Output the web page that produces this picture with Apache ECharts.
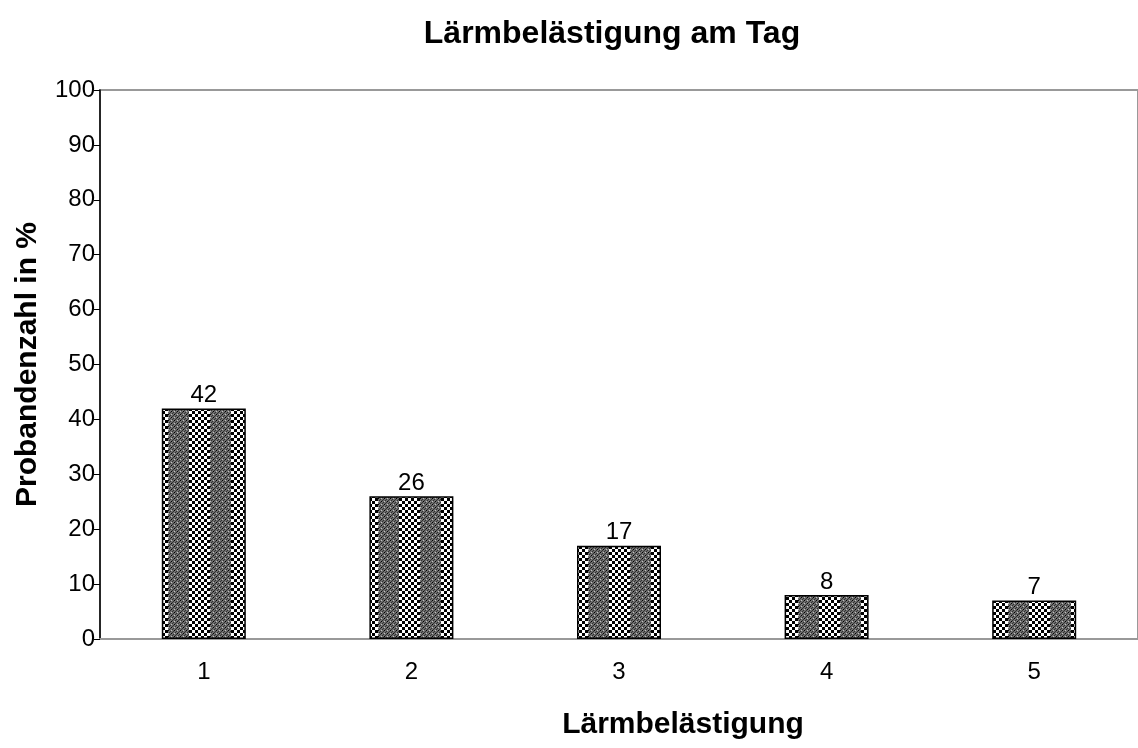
<!DOCTYPE html>
<html><head><meta charset="utf-8">
<script src="https://cdn.jsdelivr.net/npm/echarts@6/dist/echarts.min.js"></script>
<style>html,body{margin:0;padding:0;background:#fff}#c{width:1138px;height:748px}</style>
</head><body><div id="c"></div>
<script>
const categories = ['1','2','3','4','5'];
const values = [42, 26, 17, 8, 7];
const yTicks = [0,10,20,30,40,50,60,70,80,90,100];

function makePattern(){
  const cv = document.createElement('canvas');
  cv.width = 42; cv.height = 6;
  const g = cv.getContext('2d');
  g.fillStyle = '#6e6e6e'; g.fillRect(0,0,21,6);
  for (let x=0;x<21;x++){ for (let y=0;y<6;y++){
    const a=(x%6), b=(y%6);
    if ((a===0&&b===0)||(a===3&&b===3)) { g.fillStyle='#000'; g.fillRect(x,y,1,1); }
    else if ((a===0&&b===3)||(a===3&&b===0)) { g.fillStyle='#c0c0c0'; g.fillRect(x,y,1,1); }
    else if (((a+b)%3)===0) { g.fillStyle='#303030'; g.fillRect(x,y,1,1); }
  }}
  for (let x=21;x<42;x++){ for (let y=0;y<6;y++){
    const cx=Math.floor((x-21)/3), cy=Math.floor(y/3);
    g.fillStyle = ((cx+cy)%2===0)?'#000':'#fff';
    g.fillRect(x,y,1,1);
  }}
  return cv;
}

const chart = echarts.init(document.getElementById('c'));
chart.setOption({
  animation:false,
  backgroundColor:'#fff',
  title:{text:'Lärmbelästigung am Tag', left:607, top:13, textAlign:'center',
    textStyle:{fontFamily:'Liberation Sans', fontSize:32, fontWeight:'bold', color:'#000'}},
  grid:{left:100, right:-2, top:90, bottom:109, show:true, borderColor:'#999', borderWidth:2},
  xAxis:{type:'category', data:categories,
    name:'Lärmbelästigung', nameLocation:'middle', nameGap:71,
    nameTextStyle:{fontFamily:'Liberation Sans', fontSize:30, fontWeight:'bold', color:'#000', padding:[0,0,0,128]},
    axisLine:{show:true, lineStyle:{color:'#999', width:2}},
    axisTick:{show:false},
    axisLabel:{fontFamily:'Liberation Sans', fontSize:24, color:'#000', margin:21}},
  yAxis:{type:'value', min:0, max:100, interval:10,
    name:'Probandenzahl in %', nameLocation:'middle', nameGap:57,
    nameTextStyle:{fontFamily:'Liberation Sans', fontSize:30, fontWeight:'bold', color:'#000'},
    axisLine:{show:true, lineStyle:{color:'#000', width:1.5}},
    axisTick:{show:true, length:6, lineStyle:{color:'#000', width:1}},
    splitLine:{show:false},
    axisLabel:{fontFamily:'Liberation Sans', fontSize:24, color:'#000', margin:5,
      formatter:v=>yTicks.includes(v)?String(v):''}},
  series:[{type:'bar', data:values, barWidth:84,
    itemStyle:{color:{image:makePattern(), repeat:'repeat'}, borderColor:'#000', borderWidth:1.5},
    label:{show:true, position:'top', distance:1, fontFamily:'Liberation Sans', fontSize:24, color:'#000'}}]
});
</script></body></html>
